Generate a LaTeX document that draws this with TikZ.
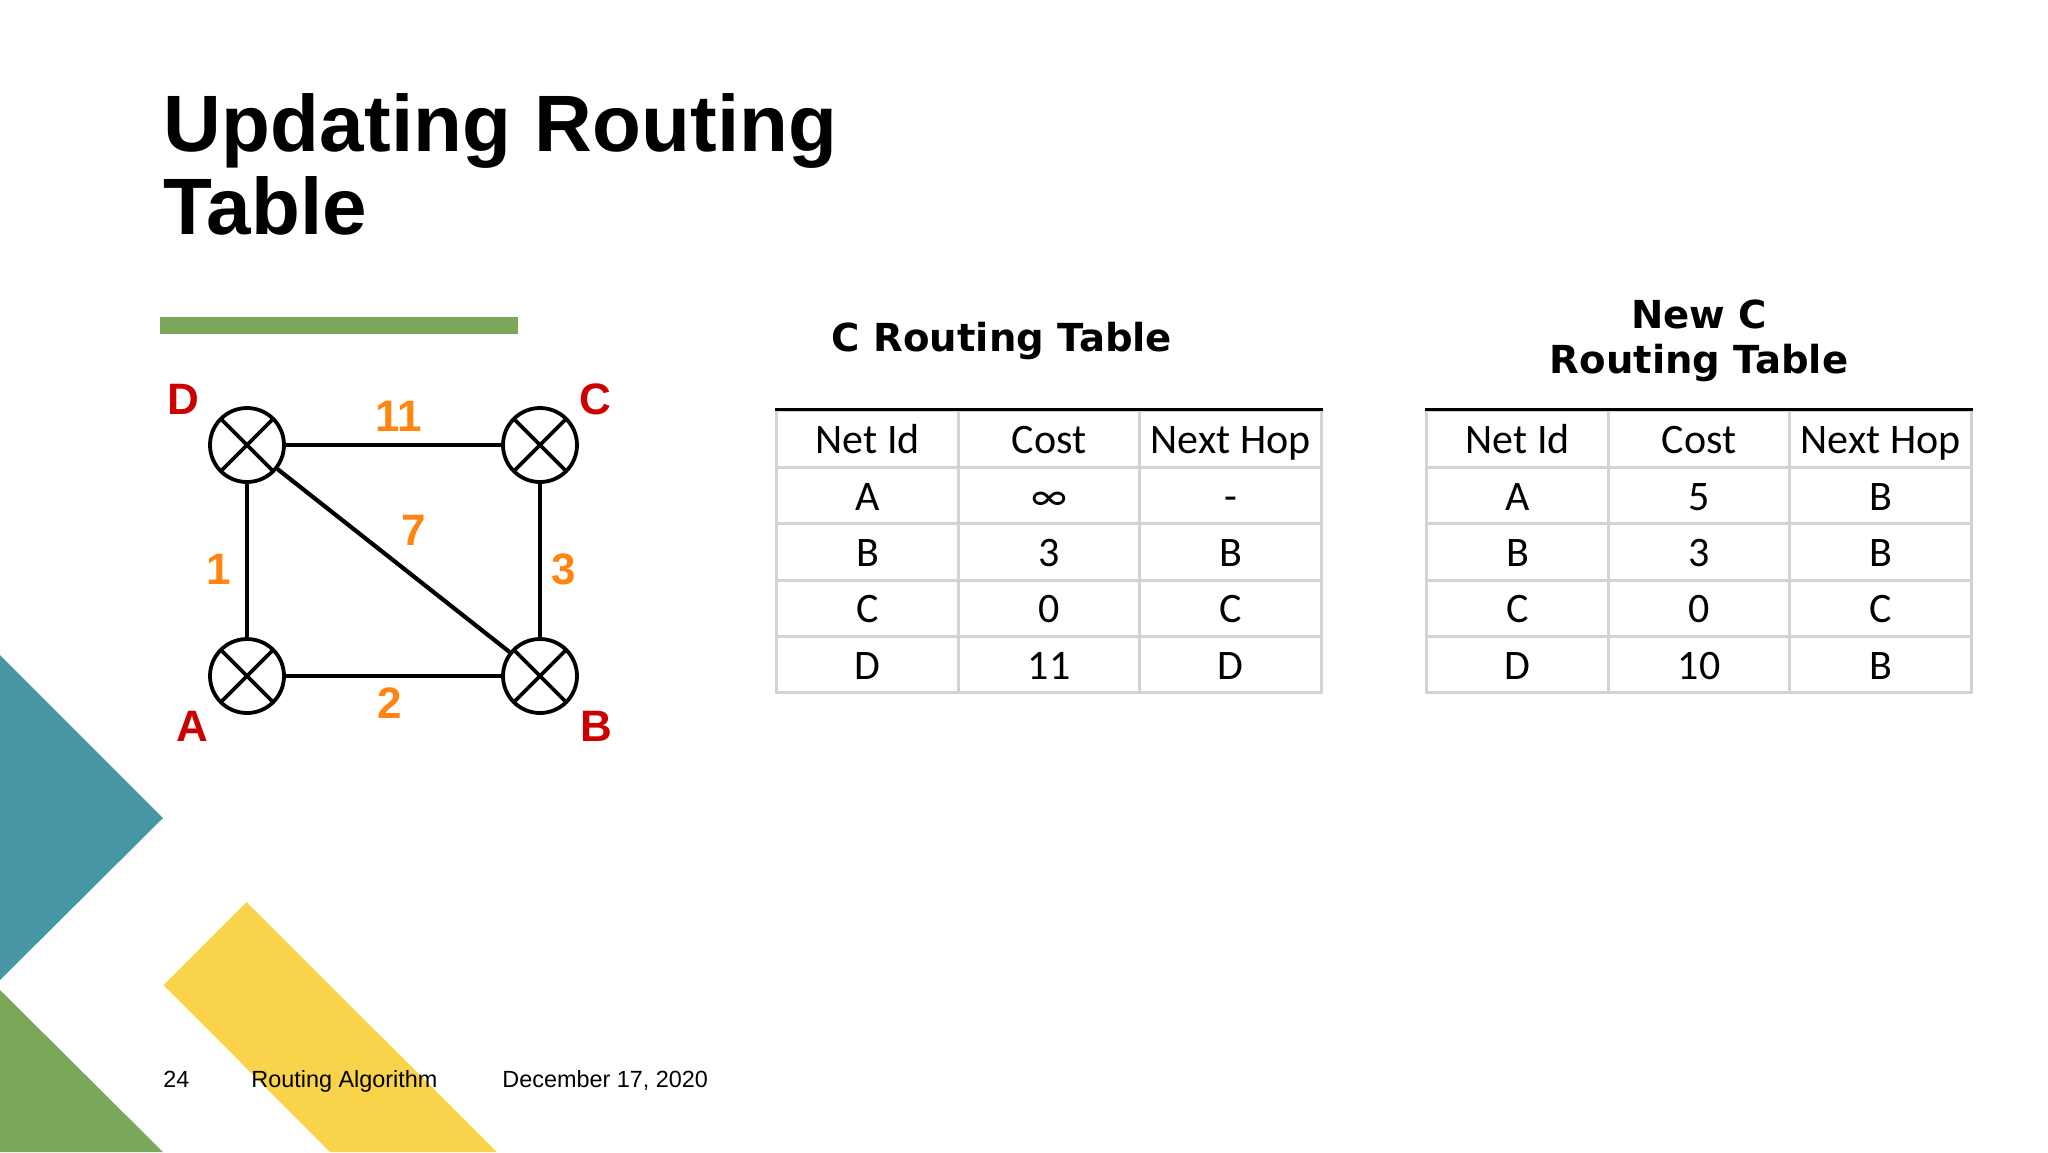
\documentclass[tikz,border=0pt]{standalone}
\usepackage{fontspec}
\setmainfont{Liberation Sans}
\newfontfamily\cellfont{Carlito}
\newfontfamily\headfont{DejaVu Sans}
\usetikzlibrary{matrix}
\definecolor{barGreen}{HTML}{7BA75A}
\definecolor{tealShape}{HTML}{4696A6}
\definecolor{yellowShape}{HTML}{F9D349}
\definecolor{gridGray}{HTML}{D4D2D2}
\definecolor{hostRed}{HTML}{CC0000}
\definecolor{costOrange}{HTML}{FF8410}
\tikzset{
  router/.style={circle,draw,line width=1.9pt,minimum size=37pt,inner sep=0pt,
    path picture={
      \draw[line width=1.9pt] (path picture bounding box.south west) -- (path picture bounding box.north east);
      \draw[line width=1.9pt] (path picture bounding box.north west) -- (path picture bounding box.south east);
    }},
  link/.style={line width=2.1pt},
  hostname/.style={text=hostRed,font=\fontsize{22}{24}\selectfont\bfseries,inner sep=0pt},
  cost/.style={text=costOrange,font=\fontsize{22}{24}\selectfont\bfseries,inner sep=0pt},
  slidetitle/.style={font=\fontsize{40}{41.5}\selectfont\bfseries\addfontfeature{LetterSpace=0.3},align=left,inner sep=0pt},
  tabletitle/.style={font=\fontsize{19.3}{22.7}\selectfont\headfont\bfseries,align=center,inner sep=0pt},
  footer/.style={font=\fontsize{11.7}{14}\selectfont,inner sep=0pt,anchor=base west},
  tablecell/.style={draw=gridGray,line width=1.5pt,minimum width=90.75pt,minimum height=28.2pt,
    inner sep=0pt,text height=18.5pt,text depth=4pt,font=\fontsize{21}{24}\selectfont\cellfont},
  routetable/.style={matrix of nodes,nodes={tablecell},inner sep=0pt,
    column sep=-1.5pt,row sep=-1.5pt,anchor=north west},
  toprule/.style={line width=1.5pt}
}

\begin{document}
\begin{tikzpicture}[x=0.5pt,y=-0.5pt]
  \useasboundingbox (0,0) rectangle (2048,1152);
  % background shapes
  \fill[tealShape] (0,655) -- (163,818) -- (0,980) -- cycle;
  \fill[barGreen] (0,990) -- (163,1152) -- (0,1152) -- cycle;
  \fill[yellowShape] (246.5,902) -- (163.5,985) -- (330,1152) -- (497,1152) -- cycle;
  \fill[barGreen] (160,317) rectangle (518,334);

  \node[slidetitle,anchor=north west] (title) at (163,93) {Updating Routing\\Table};

  % network
  \node[router] (D) at (247,445) {};
  \node[router] (C) at (540,445) {};
  \node[router] (A) at (247,676) {};
  \node[router] (B) at (540,676) {};
  \path[link]
    (D) edge (C)
    (D) edge (A)
    (D) edge (B)
    (C) edge (B)
    (A) edge (B);
  \node[hostname] (labelD) at (183,399) {D};
  \node[hostname] (labelC) at (595,399) {C};
  \node[hostname] (labelA) at (192,726) {A};
  \node[hostname] (labelB) at (596,726) {B};
  \node[cost] (costDC) at (399,416) {11};
  \node[cost] (costDB) at (414,530) {7};
  \node[cost] (costDA) at (219,569) {1};
  \node[cost] (costCB) at (564,569) {3};
  \node[cost] (costAB) at (390,703) {2};

  % tables
  \node[tabletitle] (oldtitle) at (1002,341) {C Routing Table};
  \node[tabletitle] (newtitle) at (1699,341) {New C\\Routing Table};
  \matrix (old) [routetable] at (775,409)
    {
      Net Id & Cost & Next Hop \\
      A & ∞ & - \\
      B & 3 & B \\
      C & 0 & C \\
      D & 11 & D \\
    };
  \matrix (new) [routetable] at (1425,409)
    {
      Net Id & Cost & Next Hop \\
      A & 5 & B \\
      B & 3 & B \\
      C & 0 & C \\
      D & 10 & B \\
    };
  \draw[toprule] (old-1-1.north west) -- (old-1-3.north east);
  \draw[toprule] (new-1-1.north west) -- (new-1-3.north east);

  % footer
  \node[footer] (page) at (163,1087) {24};
  \node[footer] (topic) at (251,1087) {Routing Algorithm};
  \node[footer] (date) at (502,1087) {December 17, 2020};
\end{tikzpicture}
\end{document}
